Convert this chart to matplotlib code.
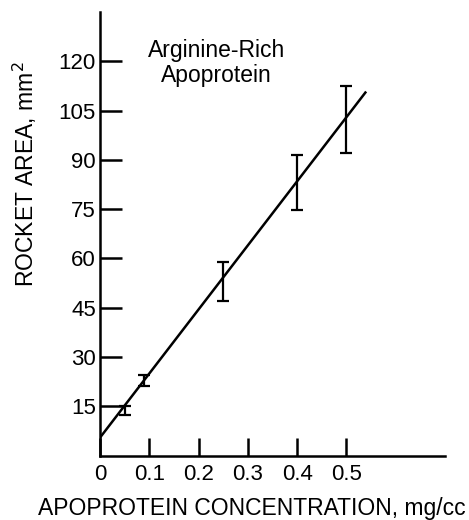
import matplotlib
matplotlib.use("Agg")
import matplotlib.pyplot as plt
import numpy as np

plt.rcParams['font.family'] = ['Liberation Sans', 'DejaVu Sans']

conc = [0.05, 0.09, 0.25, 0.40, 0.50]
area_low = [12.5, 21.2, 47.0, 74.7, 92.0]
area_high = [15.0, 24.7, 59.0, 91.5, 112.5]
fit_intercept = 5.5
fit_slope = 195.0
fit_x = [0.0, 0.54]
xticks = [0, 0.1, 0.2, 0.3, 0.4, 0.5]
xticklabels = ["0", "0.1", "0.2", "0.3", "0.4", "0.5"]
yticks = [15, 30, 45, 60, 75, 90, 105, 120]

fig = plt.figure(figsize=(4.69, 5.20), dpi=100)
ax = fig.add_axes([100/469, 1-455.7/520, 345/469, 443.7/520])

center = [(a + b) / 2 for a, b in zip(area_low, area_high)]
err = [(b - a) / 2 for a, b in zip(area_low, area_high)]
ax.errorbar(conc, center, yerr=err, fmt='none', ecolor='black', elinewidth=1.6,
            capsize=4.5, capthick=1.6)
fx = np.array(fit_x)
ax.plot(fx, fit_intercept + fit_slope * fx, color='black', lw=1.8, solid_capstyle='butt')

ax.set_xlim(0, 0.70)
ax.set_ylim(0, 135)
for s in ['top', 'right']:
    ax.spines[s].set_visible(False)
for s in ['left', 'bottom']:
    ax.spines[s].set_linewidth(1.8)

ax.set_xticks(xticks)
ax.set_xticklabels(xticklabels)
ax.set_yticks(yticks)
ax.set_yticklabels([str(v) for v in yticks])
ax.tick_params(axis='x', direction='in', length=13, width=1.8, labelsize=16, pad=6)
ax.tick_params(axis='y', direction='in', length=16, width=1.8, labelsize=16, pad=3)

ax.text(0.237, 119.6, "Arginine-Rich\nApoprotein", ha='center', va='center',
        fontsize=16.5, linespacing=1.1)

ax.set_xlabel("APOPROTEIN CONCENTRATION, mg/cc", fontsize=16.5, va='center')
ax.set_ylabel("ROCKET AREA, mm$^2$", fontsize=16.5, va='center')
ax.xaxis.set_label_coords(0.439, -0.118)
ax.yaxis.set_label_coords(-0.217, 0.635)

fig.savefig("out.png", dpi=100)
